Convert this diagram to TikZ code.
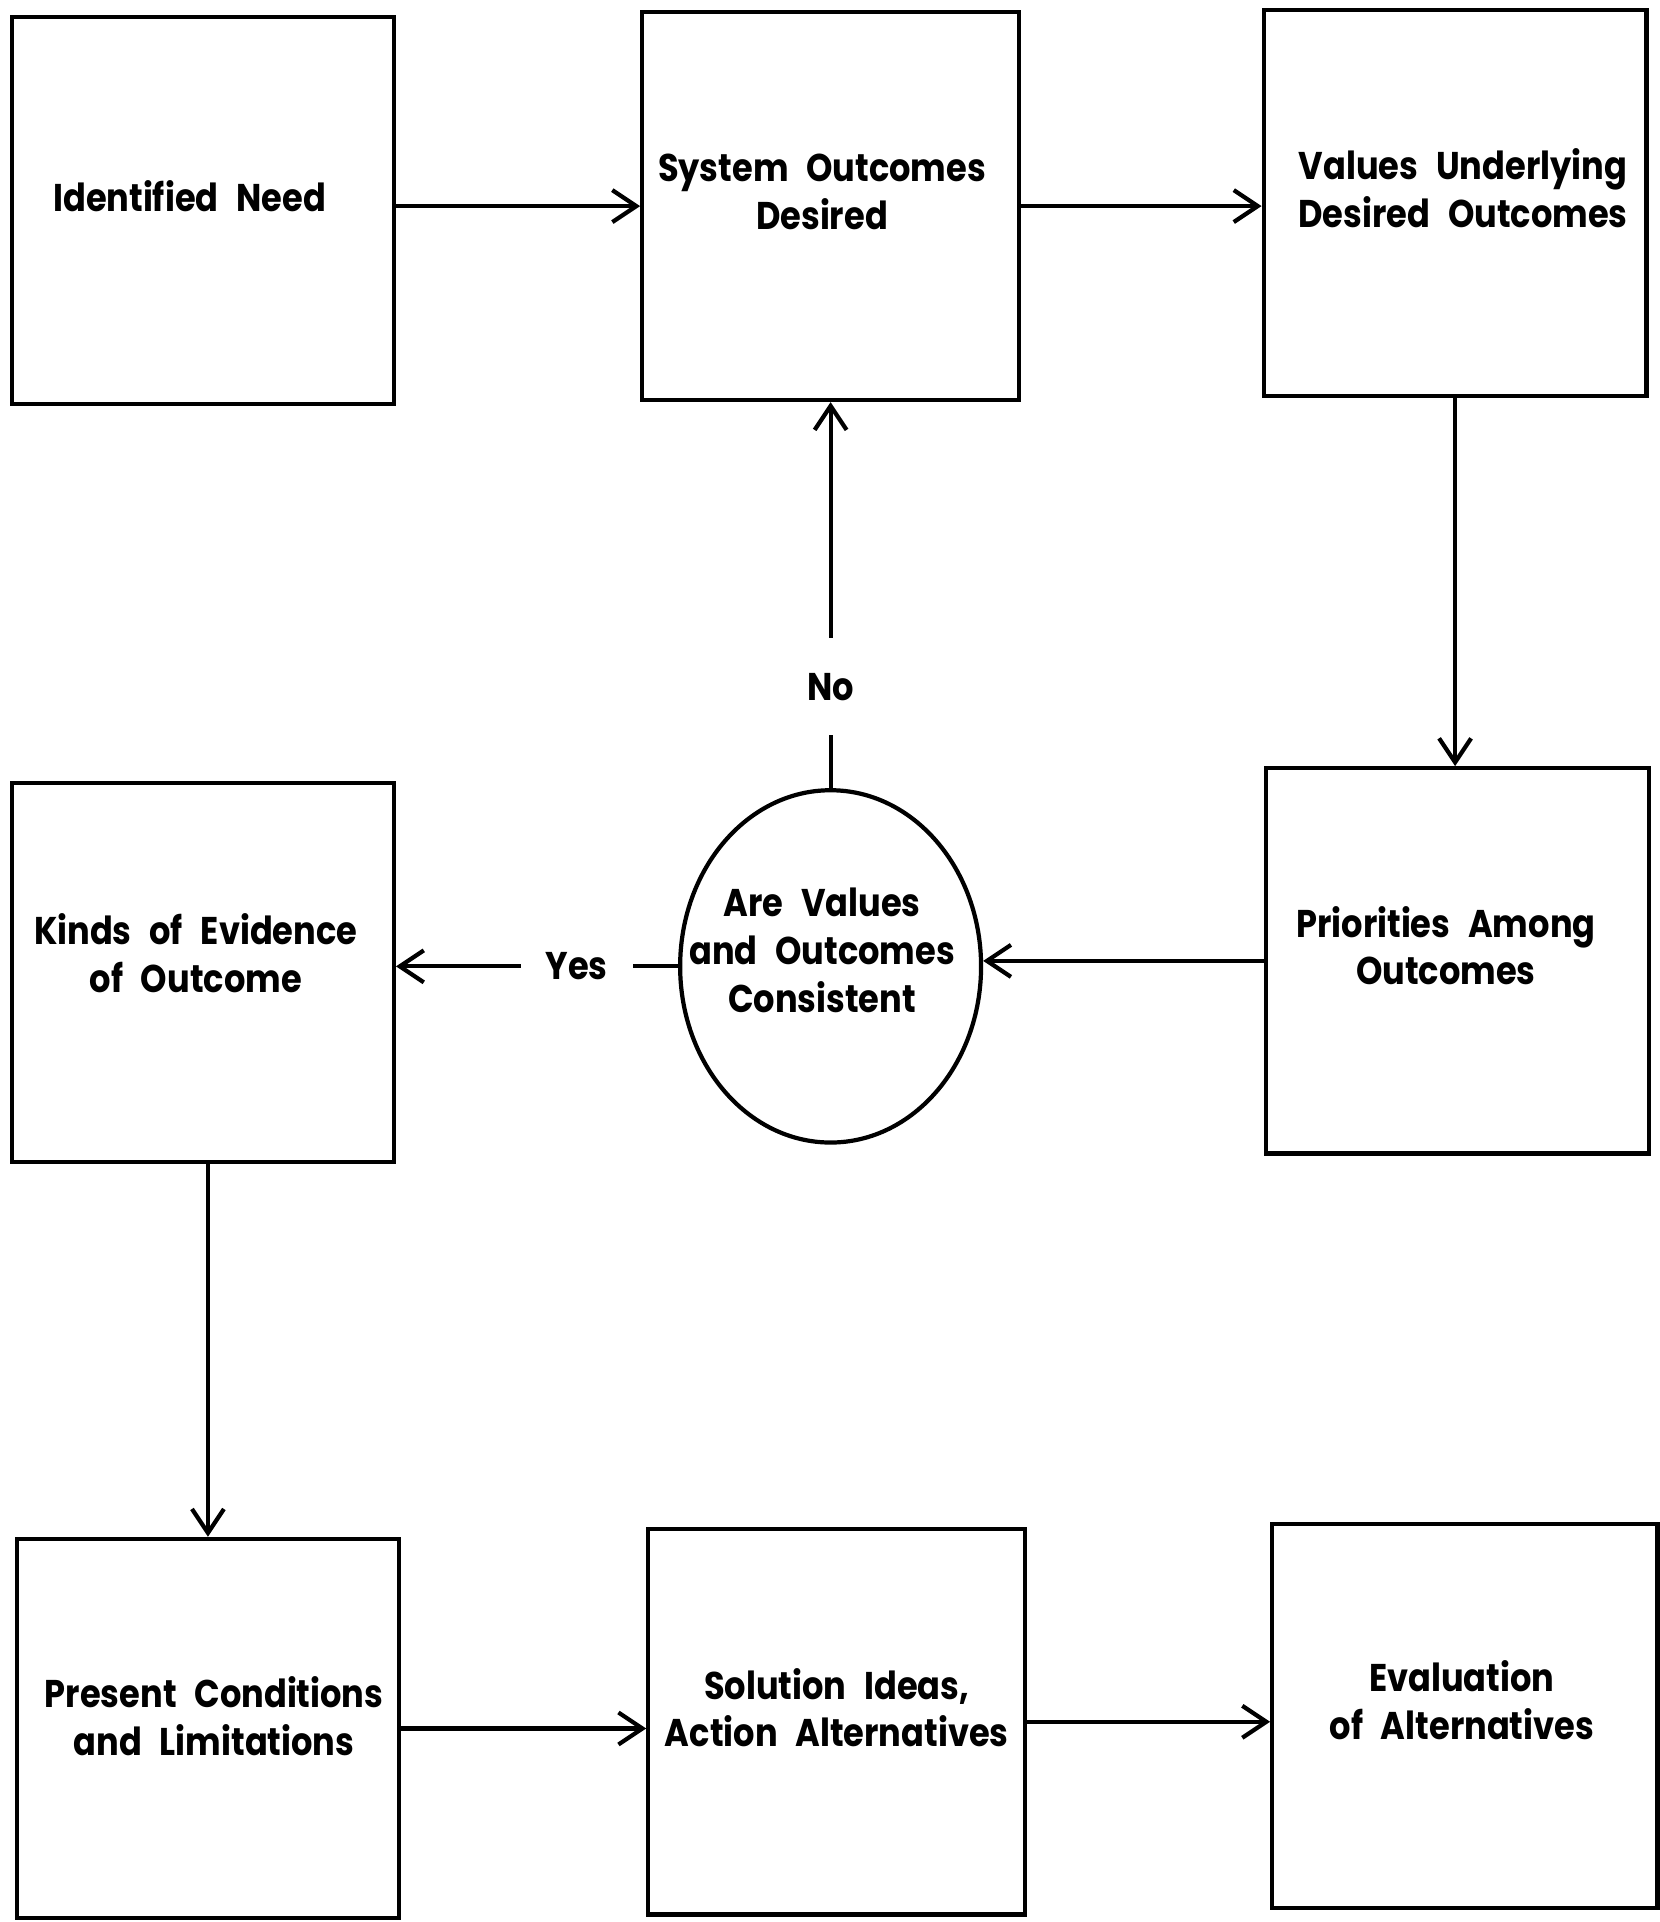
\documentclass[tikz,border=0pt]{standalone}
\usepackage{fontspec}
\setmainfont{Poppins}[FakeStretch=0.87,WordSpace=2.5]
\usetikzlibrary{arrows.meta,shapes.geometric}
\newcommand{\pxu}{0.012233cm}
\begin{document}
\begin{tikzpicture}[x=0.012233cm,y=-0.012233cm,
  lw/.style={line width=1.2pt},
  box/.style={draw,lw,rectangle,inner sep=0pt},
  oval/.style={draw,lw,ellipse,inner sep=0pt},
  lbl/.style={font=\fontsize{11}{13.6}\selectfont\bfseries,align=center,inner sep=0pt},
  gaplbl/.style={font=\fontsize{11}{13.6}\selectfont\bfseries,fill=white,inner xsep=2.5mm,inner ysep=3.5mm},
  arr/.style={lw,-{Straight Barb[length=2.4mm,width=3.2mm]}}
]
\useasboundingbox (0,0) rectangle (1357,1571.2);
% boxes
\node[box,minimum width={312*\pxu},minimum height={316*\pxu}] (b1) at (166,172) {};
\node[box,minimum width={308*\pxu},minimum height={317*\pxu}] (b2) at (679,168.5) {};
\node[box,minimum width={313*\pxu},minimum height={316*\pxu}] (b3) at (1189.5,166) {};
\node[box,minimum width={313*\pxu},minimum height={315*\pxu}] (b4) at (1191.5,785.5) {};
\node[oval,minimum width={246*\pxu},minimum height={288*\pxu}] (el) at (679,790) {};
\node[box,minimum width={312*\pxu},minimum height={310*\pxu}] (b5) at (166,795) {};
\node[box,minimum width={312*\pxu},minimum height={310*\pxu}] (b6) at (170,1413) {};
\node[box,minimum width={308*\pxu},minimum height={315*\pxu}] (b7) at (684,1407.5) {};
\node[box,minimum width={315*\pxu},minimum height={314*\pxu}] (b8) at (1197.5,1403) {};
% texts
\node[lbl] (t1) at (155,160) {Identified Need};
\node[lbl] (t2) at (672,157) {System Outcomes\\Desired};
\node[lbl] (t3) at (1196,154) {Values Underlying\\Desired Outcomes};
\node[lbl] (t4) at (1182,773) {Priorities Among\\Outcomes};
\node[lbl] (t5) at (672,777) {Are Values\\and Outcomes\\Consistent};
\node[lbl] (t6) at (160,779) {Kinds of Evidence\\of Outcome};
\node[lbl] (t7) at (175,1403) {Present Conditions\\and Limitations};
\node[lbl] (t8) at (684,1396) {Solution Ideas,\\Action Alternatives};
\node[lbl] (t9) at (1195,1390) {Evaluation\\of Alternatives};
% connectors
\draw[arr] (b1.east |- b2.west) -- (b2.west);
\draw[arr] (b2.east) -- (b2.east -| b3.west);
\draw[arr] (b3.south) -- (b3.south |- b4.north);
\draw[arr] (b4.west) -- (b4.west -| el.east);
\draw[arr] (el.north) -- node[gaplbl,pos=0.263] (no) {No} (el.north |- b2.south);
\draw[arr] (el.west) -- node[gaplbl,pos=0.36] (yes) {Yes} (el.west -| b5.east);
\draw[arr] (b6.north |- b5.south) -- (b6.north);
\draw[arr] (b6.east) -- (b6.east -| b7.west);
\draw[arr] (b7.east) -- (b7.east -| b8.west);
\end{tikzpicture}
\end{document}
